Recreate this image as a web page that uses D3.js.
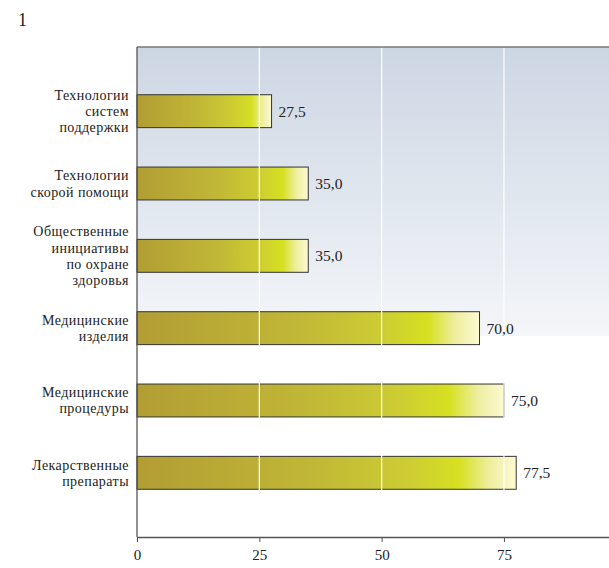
<!DOCTYPE html>
<html><head><meta charset="utf-8">
<script src="https://cdn.jsdelivr.net/npm/d3@7"></script>
<style>body{margin:0;background:#fff}svg{display:block}</style>
</head><body>
<script>
const categories = [
  ["Технологии", "систем", "поддержки"],
  ["Технологии", "скорой помощи"],
  ["Общественные", "инициативы", "по охране", "здоровья"],
  ["Медицинские", "изделия"],
  ["Медицинские", "процедуры"],
  ["Лекарственные", "препараты"]
];
const values = [27.5, 35.0, 35.0, 70.0, 75.0, 77.5];
const ticks = [0, 25, 50, 75];
const chartNumber = "1";

const W = 609, H = 568;
const m = {left: 137, top: 47, bottom: 537};
const svg = d3.select("body").append("svg").attr("width", W).attr("height", H);
const font = "'Liberation Serif', 'Times New Roman', serif";

const x = d3.scaleLinear().domain([0, 100]).range([m.left, m.left + 489.3]);
const y = d3.scaleBand().domain(d3.range(values.length)).range([m.top, m.bottom])
  .paddingInner(0.545).paddingOuter(0.66);

const defs = svg.append("defs");
const bg = defs.append("linearGradient").attr("id", "bg").attr("x1", 0).attr("y1", 0).attr("x2", 0).attr("y2", 1);
[[0, "#ccd6e3"], [0.59, "#f4f6f9"], [0.59, "#ffffff"], [1, "#ffffff"]].forEach(([o, c]) =>
  bg.append("stop").attr("offset", o).attr("stop-color", c));
const bar = defs.append("linearGradient").attr("id", "bar").attr("x1", 0).attr("y1", 0).attr("x2", 1).attr("y2", 0);
[[0, "#b29d34"], [0.45, "#c0b636"], [0.72, "#cdcd33"], [0.85, "#d6e020"], [0.93, "#eeeea0"], [1, "#fdfad2"]].forEach(([o, c]) =>
  bar.append("stop").attr("offset", o).attr("stop-color", c));

svg.append("rect").attr("x", m.left).attr("y", m.top).attr("width", W - m.left).attr("height", m.bottom - m.top)
  .attr("fill", "url(#bg)");

svg.selectAll("rect.bar").data(values).join("rect").attr("class", "bar")
  .attr("x", x(0)).attr("y", (d, i) => y(i))
  .attr("width", d => x(d) - x(0)).attr("height", y.bandwidth())
  .attr("fill", "url(#bar)").attr("stroke", "#333").attr("stroke-width", 1);

svg.selectAll("line.grid").data(ticks.filter(t => t > 0)).join("line").attr("class", "grid")
  .attr("x1", d => x(d)).attr("x2", d => x(d)).attr("y1", m.top).attr("y2", m.bottom)
  .attr("stroke", "#ffffff").attr("stroke-width", 1.2);

svg.append("line").attr("x1", m.left).attr("x2", W).attr("y1", m.top).attr("y2", m.top)
  .attr("stroke", "#777").attr("stroke-width", 1.5);
svg.append("line").attr("x1", m.left).attr("x2", m.left).attr("y1", m.top).attr("y2", m.bottom)
  .attr("stroke", "#555").attr("stroke-width", 1.3);

const xAxis = svg.append("g").attr("transform", `translate(0,${m.bottom})`)
  .call(d3.axisBottom(x).tickValues(ticks).tickSize(5).tickSizeOuter(0).tickFormat(d3.format("d")));
xAxis.attr("font-family", null).attr("font-size", null);
xAxis.select(".domain").attr("stroke", "#555").attr("stroke-width", 1.3);
xAxis.selectAll(".tick line").attr("stroke", "#555");
xAxis.selectAll("text").style("font-family", font).style("font-size", "15px").attr("fill", "#222").attr("dy", "1.0em");

const fmt = v => v.toFixed(1).replace(".", ",");
categories.forEach((lines, i) => {
  const cy = y(i) + y.bandwidth() / 2;
  const lh = 16.2;
  const t = svg.append("text").attr("text-anchor", "end")
    .style("font-family", font).style("font-size", "14px").style("letter-spacing", "0.45px")
    .attr("fill", "#222");
  lines.forEach((l, j) => {
    t.append("tspan").attr("x", 129).attr("y", cy + (j - (lines.length - 1) / 2) * lh).attr("dy", "0.35em").text(l);
  });
});

svg.selectAll("text.val").data(values).join("text").attr("class", "val")
  .attr("x", d => x(d) + 7).attr("y", (d, i) => y(i) + y.bandwidth() / 2).attr("dy", "0.35em")
  .style("font-family", font).style("font-size", "15.5px").attr("fill", "#222").text(fmt);

svg.append("text").attr("x", 18).attr("y", 26).style("font-family", font).style("font-size", "18px")
  .attr("fill", "#222").text(chartNumber);
</script>
</body></html>
